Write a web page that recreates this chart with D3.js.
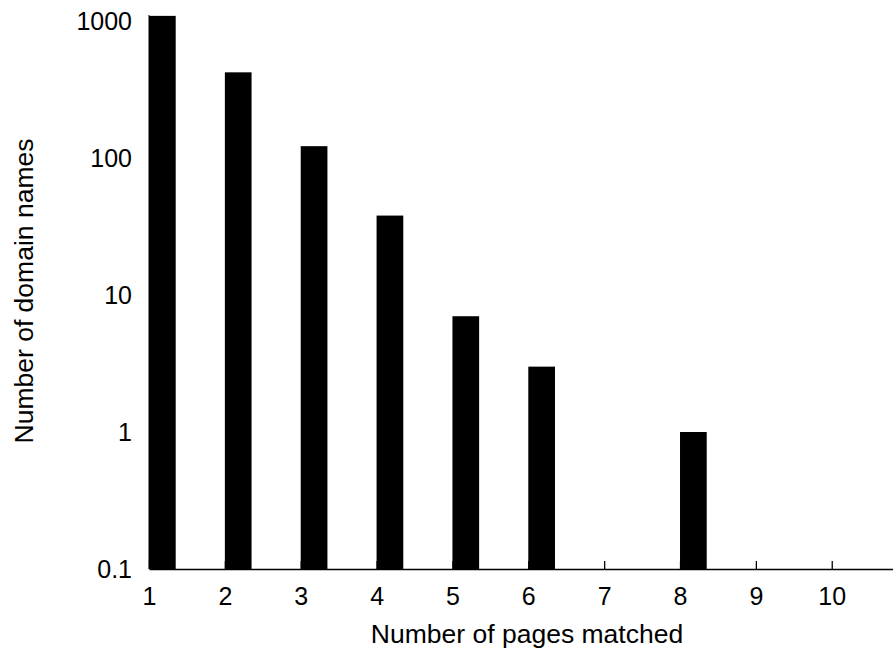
<!DOCTYPE html>
<html>
<head>
<meta charset="utf-8">
<script src="https://cdn.jsdelivr.net/npm/d3@7"></script>
<style>
  body { margin: 0; background: #fff; }
  svg text { font-family: "Liberation Sans", Arial, Helvetica, sans-serif; fill: #000; }
</style>
</head>
<body>
<div class="chart"></div>
<script>
// values (0 = no bar)
var pages = [1, 2, 3, 4, 5, 6, 7, 8, 9, 10];
var domains = [1090, 422, 122, 38, 7, 3, 0, 1, 0, 0];
var y_ticks = [0.1, 1, 10, 100, 1000];
var x_ticks = [1, 2, 3, 4, 5, 6, 7, 8, 9, 10];

var frame = {
  width: 893,
  height: 650,
  left: 149,
  bottom: 569,
  top: 21,
  step: 75.86,
  bar_w: 26.7,
}

var x = d3.scaleLinear().domain([1, 11]).range([frame.left, frame.left + 10 * frame.step]);
var y = d3.scaleLog().domain([0.1, 1000]).range([frame.bottom, frame.top]);

var svg = d3.select(".chart").append("svg")
  .attr("width", frame.width)
  .attr("height", frame.height);

// bars
svg.append("g").selectAll("rect")
  .data(pages.map((p, i) => ({p: p, v: domains[i]})).filter(d => d.v > 0))
  .join("rect")
  .attr("x", d => x(d.p))
  .attr("y", d => y(d.v))
  .attr("width", frame.bar_w)
  .attr("height", d => y(0.1) - y(d.v))
  .style("fill", "#000");

// x axis, ticks pointing up into the plot
var xa = svg.append("g")
  .attr("transform", `translate(0, ${frame.bottom})`)
  .call(d3.axisBottom(x).tickValues(x_ticks).tickSize(-8).tickSizeOuter(0).tickPadding(18).tickFormat(d3.format("d")));
xa.selectAll("text").style("font-size", "25px");
xa.selectAll("line, path").attr("stroke", "#000").attr("stroke-width", 1.3);

// y axis
var ya = svg.append("g")
  .attr("transform", `translate(${frame.left}, 0)`)
  .call(d3.axisLeft(y).tickValues(y_ticks).tickSize(0).tickPadding(17).tickFormat(d => d < 1 ? "0.1" : d3.format("d")(d)));
ya.selectAll("text").style("font-size", "25px").attr("dy", "0.35em");
ya.select(".domain").remove();
svg.append("line")
  .attr("x1", frame.left).attr("x2", frame.left)
  .attr("y1", frame.bottom).attr("y2", 15)
  .attr("stroke", "#000");

// axis titles
svg.append("text").text("Number of pages matched")
  .attr("x", 527)
  .attr("y", 643)
  .attr("text-anchor", "middle")
  .style("font-size", "26.5px");

svg.append("text").text("Number of domain names")
  .attr("transform", "translate(33, 291) rotate(-90)")
  .attr("text-anchor", "middle")
  .style("font-size", "26.5px");
</script>
</body>
</html>
